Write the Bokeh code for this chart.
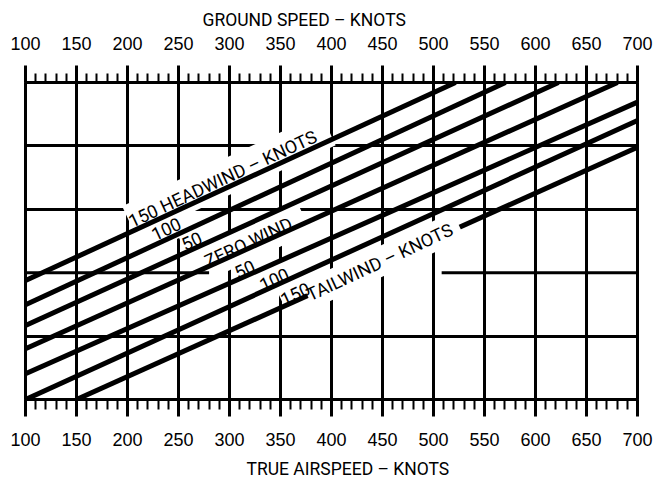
from bokeh.plotting import figure
from bokeh.models import (Range1d, LinearAxis, SingleIntervalTicker, FixedTicker,
                          Title, ColumnDataSource)
from bokeh.core.properties import value
from bokeh.embed import file_html
from bokeh.resources import INLINE

# ---- data -------------------------------------------------------------
# speed scale shared by true airspeed (bottom) and ground speed (top), knots
speed_min, speed_max = 100, 700

# wind lines: headwind lines lie to the left of the zero-wind line,
# tailwind lines to the right; "level" is the chart's unlabelled vertical scale
wind_knots = [-150, -100, -50, 0, 50, 100, 150]
line_caption = ["150 HEADWIND – KNOTS", "100", "50", "ZERO WIND", "50", "100", "150"]
tailwind_caption = "TAILWIND – KNOTS"
line_tas_start = [100, 100, 100, 100, 100, 100, 150]
line_level_start = [1.877, 1.494, 1.167, 0.800, 0.405, 0.0, 0.0]
line_tas_end = [521.6, 570.6, 622.5, 680.4, 700, 700, 700]
line_level_end = [5.0, 5.0, 5.0, 5.0, 4.69, 4.40, 3.98]

# ---- layout constants --------------------------------------------------
level_max = 5
px_per_level = 63.4
caption_tas = [202, 224.5, 254, 276.5, 306, 330.4, 351]   # where each caption starts
caption_rise_px = [10.5, 10.5, 8.5, 5.6, 7, 6.4, 6.8]      # lift above its line
inline_tas = 376.5                                          # tailwind caption, set in the line
caption_angle = 25
mid_rule_gap = (280, 508)                                   # break in the middle rule

TICK_FONT = "Liberation Sans"
LETTER_FONT = "Roboto"
CAPTION_SIZE = "18px"


def level_on_line(i, tas):
    x0, y0 = line_tas_start[i], line_level_start[i]
    x1, y1 = line_tas_end[i], line_level_end[i]
    return y0 + (y1 - y0) * (tas - x0) / (x1 - x0)


caption_level = [level_on_line(i, t) + caption_rise_px[i] / px_per_level
                 for i, t in enumerate(caption_tas)]

lines = ColumnDataSource(dict(x0=line_tas_start, y0=line_level_start,
                              x1=line_tas_end, y1=line_level_end, wind=wind_knots))
captions = ColumnDataSource(dict(x=caption_tas, y=caption_level, text=line_caption))
inline = ColumnDataSource(dict(x=[inline_tas], y=[level_on_line(6, inline_tas)],
                               text=[tailwind_caption]))

p = figure(width=661, height=487,
           x_range=Range1d(speed_min, speed_max), y_range=Range1d(0, level_max),
           output_backend="svg", toolbar_location=None,
           x_axis_location=None, y_axis_location=None,
           min_border_left=25, min_border_right=24,
           min_border_top=82, min_border_bottom=88)
p.background_fill_color = "white"
p.border_fill_color = "white"
p.outline_line_color = "black"
p.outline_line_width = 3

# grid
p.xgrid.ticker = FixedTicker(ticks=list(range(speed_min + 50, speed_max, 50)))
p.ygrid.ticker = FixedTicker(ticks=[1, 3, 4])
for g in (p.xgrid, p.ygrid):
    g.grid_line_color = "black"
    g.grid_line_width = 3
    g.grid_line_alpha = 1.0

# middle rule, broken where the wind captions sit
p.segment(x0=[speed_min, mid_rule_gap[1]], y0=[2, 2],
          x1=[mid_rule_gap[0], speed_max], y1=[2, 2],
          line_color="black", line_width=3)

# axes: bottom = true airspeed, top = ground speed
top_axis = LinearAxis()
bottom_axis = LinearAxis()
p.add_layout(top_axis, "above")
p.add_layout(bottom_axis, "below")
for ax, minor in ((bottom_axis, 10), (top_axis, 9)):
    ax.ticker = SingleIntervalTicker(interval=50, num_minor_ticks=5)
    ax.axis_line_color = "black"
    ax.axis_line_width = 3
    ax.major_tick_line_color = "black"
    ax.major_tick_line_width = 3
    ax.major_tick_out = 17
    ax.major_tick_in = 0
    ax.minor_tick_line_color = "black"
    ax.minor_tick_line_width = 2
    ax.minor_tick_out = minor
    ax.minor_tick_in = 0
    ax.major_label_text_font = TICK_FONT
    ax.major_label_text_font_size = "18px"
    ax.major_label_text_color = "black"
bottom_axis.major_label_standoff = 16
top_axis.major_label_standoff = 16

p.add_layout(Title(text="GROUND SPEED – KNOTS", align="left", offset=177, standoff=8,
                   text_font=LETTER_FONT, text_font_size="17.5px", text_font_style="normal",
                   text_color="black"), "above")
p.add_layout(Title(text="TRUE AIRSPEED – KNOTS", align="left", offset=221, standoff=16,
                   text_font=LETTER_FONT, text_font_size="17.5px", text_font_style="normal",
                   text_color="black"), "below")

caption_style = dict(angle=caption_angle, angle_units="deg",
                     text_font=value(LETTER_FONT), text_font_size=CAPTION_SIZE,
                     text_align="left")

# white patches behind the captions clear the grid around them
p.text(x="x", y="y", text="text", source=captions, text_alpha=0,
       text_baseline="alphabetic", background_fill_color="white", padding=7,
       **caption_style)

# wind lines
p.segment(x0="x0", y0="y0", x1="x1", y1="y1", source=lines,
          line_color="black", line_width=5, line_cap="butt")

# tailwind caption written into its own line
p.text(x="x", y="y", text="text", source=inline, text_alpha=0,
       text_baseline="middle", background_fill_color="white", padding=4,
       **caption_style)
p.text(x="x", y="y", text="text", source=inline, text_color="black",
       text_baseline="middle", **caption_style)

# captions above the lines
p.text(x="x", y="y", text="text", source=captions, text_color="black",
       text_baseline="alphabetic", **caption_style)

open("out.html", "w").write(file_html(p, INLINE))
